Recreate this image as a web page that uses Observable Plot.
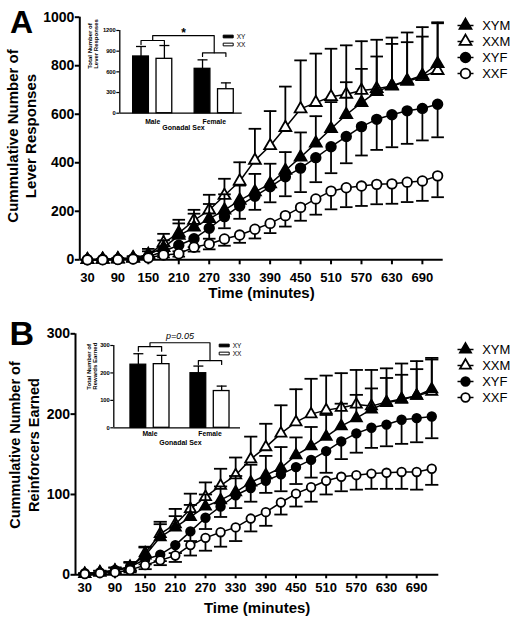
<!DOCTYPE html>
<html>
<head>
<meta charset="utf-8">
<script src="https://cdn.jsdelivr.net/npm/d3@7"></script>
<script src="https://cdn.jsdelivr.net/npm/@observablehq/plot@0.6"></script>
<style>
  body { margin: 0; background: #fff; }
  #fig { position: relative; width: 512px; height: 624px; overflow: hidden; background: #fff;
         font-family: "Liberation Sans", Arial, sans-serif; color: #000; }
  .letter { position: absolute; font-weight: bold; line-height: 1; }
  .ytitle { position: absolute; font-weight: bold; text-align: center; white-space: pre; transform: rotate(-90deg); }
</style>
</head>
<body>
<div id="fig"></div>
<script>
// ---------------- DATA ----------------
const times = [30, 60, 90, 120, 150, 180, 210, 240, 270, 300, 330, 360, 390, 420, 450, 480, 510, 540, 570, 600, 630, 660, 690, 720];
const timeTicks = [30, 90, 150, 210, 270, 330, 390, 450, 510, 570, 630, 690];
const seriesNames = ["XYM", "XXM", "XYF", "XXF"];

// Panel A: cumulative lever responses (mean, SEM)
const leverXYM = [0, 2, 4, 8, 22, 50, 100, 134, 169, 205, 245, 280, 313, 368, 423, 481, 540, 598, 648, 693, 718, 739, 760, 808];
const leverXYMErr = [0, 2, 4, 6, 13, 30, 50, 56, 61, 65, 61, 74, 83, 76, 102, 111, 110, 134, 139, 145, 172, 158, 160, 167];
const leverXXM = [0, 2, 3, 6, 18, 70, 110, 162, 205, 265, 324, 410, 470, 545, 622, 648, 672, 682, 698, 705, 716, 735, 755, 780];
const leverXXMErr = [0, 2, 4, 8, 27, 37, 55, 44, 63, 69, 78, 130, 143, 169, 200, 202, 198, 202, 203, 202, 200, 202, 204, 199];
const leverXYF = [0, 1, 2, 4, 12, 35, 60, 87, 130, 178, 222, 262, 301, 342, 378, 421, 466, 508, 549, 579, 598, 614, 624, 641];
const leverXYFErr = [0, 1, 2, 3, 6, 15, 25, 35, 43, 48, 53, 56, 64, 80, 99, 101, 109, 110, 119, 126, 134, 136, 132, 136];
const leverXXF = [0, 0, 1, 3, 8, 20, 25, 52, 65, 86, 102, 126, 150, 182, 216, 251, 283, 297, 304, 311, 313, 320, 325, 346];
const leverXXFErr = [0, 0, 1, 2, 4, 10, 12, 18, 22, 28, 32, 38, 40, 45, 55, 65, 75, 80, 82, 82, 82, 82, 82, 88];
const leverYTicks = [0, 200, 400, 600, 800, 1000];

// Panel B: cumulative reinforcers earned (mean, SEM)
const rewardXYM = [1, 3, 5, 10, 24, 47, 59, 72, 85, 93, 103, 115, 124, 133, 149, 160, 172, 185, 195, 206, 214, 218, 223, 231];
const rewardXYMErr = [1, 2, 4, 6, 10, 19, 14, 15, 15, 17, 20, 22, 24, 26, 22, 24, 27, 28, 29, 26, 31, 31, 33, 37];
const rewardXXM = [1, 3, 5, 9, 27, 51, 63, 82, 97, 111, 124, 144, 159, 176, 190, 200, 205, 208, 212, 210, 215, 219, 223, 228];
const rewardXXMErr = [1, 2, 4, 6, 8, 12, 19, 19, 18, 21, 22, 28, 29, 35, 41, 44, 43, 43, 43, 45, 42, 44, 43, 42];
const rewardXYF = [2, 3, 6, 10, 19, 25, 37, 54, 71, 85, 99, 108, 117, 125, 134, 143, 154, 166, 176, 183, 187, 193, 195, 197];
const rewardXYFErr = [1, 2, 3, 5, 6, 8, 10, 12, 14, 13, 16, 17, 15, 21, 21, 22, 27, 22, 24, 25, 27, 30, 30, 27];
const rewardXXF = [1, 2, 3, 6, 12, 18, 24, 37, 46, 53, 59, 70, 78, 90, 101, 109, 117, 122, 124, 126, 127, 128, 128, 132];
const rewardXXFErr = [1, 1, 2, 3, 5, 6, 8, 13, 16, 18, 17, 16, 17, 15, 16, 18, 17, 18, 18, 19, 20, 21, 22, 20];
const rewardYTicks = [0, 100, 200, 300];

// Insets: totals by gonadal sex and sex chromosome complement
const insetSexes = ["Male", "Female"];
const insetGenotypes = ["XY", "XX"];
const leverTotalXY = [823, 644];
const leverTotalXYErr = [145, 130];
const leverTotalXX = [789, 348];
const leverTotalXXErr = [193, 92];
const leverInsetTicks = [0, 300, 600, 900, 1200];
const leverBracket = [997, 1055, 823, 876, 1127]; // male low/high, female low/high, top
const rewardTotalXY = [230, 199];
const rewardTotalXYErr = [40, 26];
const rewardTotalXX = [232, 134];
const rewardTotalXXErr = [32, 18];
const rewardInsetTicks = [0, 100, 200, 300];
const rewardBracket = [279, 296, 231, 245, 310];

// ---------------- HELPERS ----------------
const FONT = "'Liberation Sans', Arial, Helvetica, sans-serif";
const fig = document.getElementById("fig");
const plain = d => String(d);
function place(el, left, top) {
  el.style.position = "absolute";
  el.style.left = left + "px";
  el.style.top = top + "px";
  el.style.overflow = "visible";
  el.style.maxWidth = "none";
  fig.appendChild(el);
}
function yTitle(text, cx, cy, size, lh) {
  const div = document.createElement("div");
  div.className = "ytitle";
  div.textContent = text;
  const w = 240, h = lh * 2;
  div.style.width = w + "px";
  div.style.height = h + "px";
  div.style.fontSize = size + "px";
  div.style.lineHeight = lh + "px";
  div.style.left = (cx - w / 2) + "px";
  div.style.top = (cy - h / 2) + "px";
  fig.appendChild(div);
}
const hline = { draw(ctx, size) { const w = Math.sqrt(size / Math.PI); ctx.moveTo(-w, 0); ctx.lineTo(w, 0); } };
const swatchRect = { draw(ctx, size) { const w = Math.sqrt(size / Math.PI); ctx.rect(-w, -w * 0.27, 2 * w, w * 0.54); } };

const errDir = { XYM: 1, XXM: 1, XYF: -1, XXF: -1 };
const markerKind = {
  XYM: { symbol: "triangle", fill: "black" },
  XXM: { symbol: "triangle", fill: "white" },
  XYF: { symbol: "circle", fill: "black" },
  XXF: { symbol: "circle", fill: "white" }
};
const drawOrder = ["XXM", "XYM", "XYF", "XXF"];

function mainPanel(cfg) {
  const rowsBy = {};
  seriesNames.forEach((s, k) => {
    rowsBy[s] = times.map((t, i) => ({ t, v: cfg.values[k][i], e: cfg.errors[k][i] }));
  });
  const marks = [
    Plot.ruleY([cfg.yDomain[0]], { strokeWidth: 2 }),
    Plot.ruleX([cfg.xDomain[0]], { strokeWidth: 2 }),
    Plot.axisY({ ticks: cfg.yTicks, tickFormat: plain, tickSize: cfg.yTickSize, tickPadding: cfg.yTickPad, fontSize: cfg.yTickFont,
                 fontWeight: "bold", label: null, strokeWidth: 2 }),
    Plot.axisX({ ticks: timeTicks, tickFormat: plain, tickSize: cfg.xTickSize, tickPadding: cfg.xTickPad, fontSize: cfg.xTickFont,
                 fontWeight: "bold", label: null, strokeWidth: 2 })
  ];
  for (const s of drawOrder) {
    const rows = rowsBy[s];
    const d = errDir[s];
    const mk = markerKind[s];
    marks.push(
      Plot.ruleX(rows, { x: "t", y1: "v", y2: r => r.v + d * r.e, strokeWidth: 1.8 }),
      Plot.dot(rows, { x: "t", y: r => r.v + d * r.e, symbol: hline, r: cfg.cap, stroke: "black", fill: "none", strokeWidth: 1.8 }),
      Plot.line(rows, { x: "t", y: "v", stroke: "black", strokeWidth: 1.5 }),
      Plot.dot(rows, { x: "t", y: "v", symbol: mk.symbol, r: mk.symbol === "triangle" ? cfg.tri : cfg.circ,
                       fill: mk.fill, stroke: "black", strokeWidth: 1.8 })
    );
  }
  marks.push(
    Plot.text(["Time (minutes)"], { text: d => d, frameAnchor: "bottom", dy: cfg.xTitleDy, fontSize: 15, fontWeight: "bold" })
  );
  const p = Plot.plot({
    width: cfg.width, height: cfg.height,
    marginLeft: cfg.ml, marginRight: cfg.mr, marginTop: cfg.mt, marginBottom: cfg.mb,
    x: { domain: cfg.xDomain },
    y: { domain: cfg.yDomain },
    style: { fontFamily: FONT, background: "transparent", overflow: "visible", color: "black" },
    marks
  });
  place(p, cfg.left, cfg.top);
}

function mainLegend(cfg) {
  const marks = [];
  for (const s of seriesNames) {
    const mk = markerKind[s];
    marks.push(
      Plot.dot([s], { y: d => d, frameAnchor: "left", symbol: hline, r: 8, stroke: "black", fill: "none", strokeWidth: 1.5 }),
      Plot.dot([s], { y: d => d, frameAnchor: "left", symbol: mk.symbol, r: mk.symbol === "triangle" ? cfg.tri : cfg.circ,
                      fill: mk.fill, stroke: "black", strokeWidth: 1.8 })
    );
  }
  marks.push(Plot.text(seriesNames, { y: d => d, text: d => d, frameAnchor: "left", dx: 16.7, textAnchor: "start", fontSize: 13 }));
  const p = Plot.plot({
    width: 72, height: cfg.height, marginLeft: 25, marginRight: 0, marginTop: 0, marginBottom: 0,
    y: { type: "point", domain: seriesNames, range: cfg.rows, padding: 0, axis: null },
    style: { fontFamily: FONT, background: "transparent", overflow: "visible", color: "black" },
    marks
  });
  place(p, cfg.left, cfg.top);
}

function insetPanel(cfg) {
  const rows = [];
  insetSexes.forEach((s, si) => {
    insetGenotypes.forEach(g => {
      rows.push({
        sex: s, g,
        pos: si + (g === "XY" ? -cfg.off : cfg.off),
        v: g === "XY" ? cfg.xy[si] : cfg.xx[si],
        e: g === "XY" ? cfg.xyErr[si] : cfg.xxErr[si]
      });
    });
  });
  const [mLow, mHigh, fLow, fHigh, topY] = cfg.br;
  const o = cfg.off;
  const maleBr = [{ x: -o, y: mLow }, { x: -o, y: mHigh }, { x: o, y: mHigh }, { x: o, y: mLow }];
  const femBr = [{ x: 1 - o, y: fLow }, { x: 1 - o, y: fHigh }, { x: 1 + o, y: fHigh }, { x: 1 + o, y: fLow }];
  const topBr = [{ x: 0, y: mHigh }, { x: 0, y: topY }, { x: 1, y: topY }, { x: 1, y: fHigh }];
  const p = Plot.plot({
    width: cfg.width, height: cfg.height,
    marginLeft: cfg.ml, marginRight: cfg.mr, marginTop: cfg.mt, marginBottom: cfg.mb,
    x: { domain: cfg.xDomain },
    y: { domain: cfg.yDomain },
    style: { fontFamily: FONT, background: "transparent", overflow: "visible", color: "black" },
    marks: [
      Plot.ruleY([cfg.yDomain[0]], { strokeWidth: 1.3 }),
      Plot.ruleX([cfg.xDomain[0]], { strokeWidth: 1.3 }),
      Plot.axisY({ ticks: cfg.yTicks, tickFormat: plain, tickSize: 3, tickPadding: 1, fontSize: 5.8, fontWeight: "bold", label: null, strokeWidth: 1.2 }),
      Plot.axisX({ ticks: [0, 1], tickFormat: i => insetSexes[i], tickSize: 0, tickPadding: cfg.xLabPad, fontSize: 6.8,
                   fontWeight: "bold", label: null }),
      Plot.ruleX(rows, { x: "pos", y1: "v", y2: r => r.v + r.e, strokeWidth: 1.3 }),
      Plot.dot(rows, { x: "pos", y: r => r.v + r.e, symbol: hline, r: 5, stroke: "black", fill: "none", strokeWidth: 1.3 }),
      Plot.rectY(rows, { x1: r => r.pos - cfg.hw, x2: r => r.pos + cfg.hw, y: "v",
                         fill: r => r.g === "XY" ? "black" : "white", stroke: "black", strokeWidth: 1.3 }),
      Plot.line(maleBr, { x: "x", y: "y", strokeWidth: 1.2 }),
      Plot.line(femBr, { x: "x", y: "y", strokeWidth: 1.2 }),
      Plot.line(topBr, { x: "x", y: "y", strokeWidth: 1.2 }),
      Plot.text([cfg.sig], { x: 0.5, y: topY, text: d => d, dy: cfg.sigDy, fontSize: cfg.sigSize,
                             fontWeight: cfg.sigWeight, fontStyle: cfg.sigStyle }),
      Plot.text(["Gonadal Sex"], { text: d => d, frameAnchor: "bottom", dx: cfg.gsDx, dy: cfg.gsDy, fontSize: 7, fontWeight: "bold" }),
      Plot.text([cfg.yLabel], { text: d => d, frameAnchor: "left", rotate: -90, dx: cfg.ylDx, dy: cfg.ylDy,
                                fontSize: 6, lineHeight: 1.05, fontWeight: "bold" })
    ]
  });
  place(p, cfg.left, cfg.top);
}

function insetLegend(cfg) {
  const p = Plot.plot({
    width: 45, height: 30, marginLeft: 12.7, marginRight: 0, marginTop: 0, marginBottom: 0,
    y: { type: "point", domain: insetGenotypes, range: cfg.rows, padding: 0, axis: null },
    style: { fontFamily: FONT, background: "transparent", overflow: "visible", color: "black" },
    marks: [
      Plot.dot(insetGenotypes, { y: d => d, frameAnchor: "left", symbol: swatchRect, r: 5,
                                 fill: d => d === "XY" ? "black" : "white", stroke: "black", strokeWidth: 1 }),
      Plot.text(insetGenotypes, { y: d => d, text: d => d, frameAnchor: "left", dx: 8.5, textAnchor: "start", fontSize: 6.5 })
    ]
  });
  place(p, cfg.left, cfg.top);
}

// ---------------- PANEL A ----------------
mainPanel({
  left: 0, top: 0, width: 512, height: 310,
  ml: 79.3, mr: 69.3, mt: 16.7, mb: 50.7,
  xDomain: [15, 731], yDomain: [0, 1000], yTicks: leverYTicks,
  values: [leverXYM, leverXXM, leverXYF, leverXXF],
  errors: [leverXYMErr, leverXXMErr, leverXYFErr, leverXXFErr],
  yTickSize: 4.5, yTickPad: 1, yTickFont: 14,
  xTickSize: 5, xTickPad: 8, xTickFont: 13,
  tri: 4.4, circ: 4.8, cap: 6.3,
  xTitleDy: 38
});
mainLegend({ left: 440, top: 0, height: 90, rows: [24, 73.3], tri: 4.4, circ: 4.8 });
insetPanel({
  left: 60, top: 10, width: 200, height: 130,
  ml: 59.3, mr: 18.3, mt: 20, mb: 27.3,
  xDomain: [-0.535, 1.455], off: 0.19, hw: 0.128,
  yDomain: [0, 1200], yTicks: leverInsetTicks,
  xy: leverTotalXY, xyErr: leverTotalXYErr, xx: leverTotalXX, xxErr: leverTotalXXErr,
  br: leverBracket, sig: "*", sigSize: 12, sigDy: -2, sigWeight: "bold", sigStyle: "normal",
  xLabPad: 6, gsDx: 2.5, gsDy: 16.6,
  yLabel: "Total Number of\nLever Responses", ylDx: -26.6, ylDy: -3
});
insetLegend({ left: 215, top: 25, rows: [10.8, 19.2] });
yTitle("Cummulative Number of\nLever Responses", 21.5, 136, 15, 18);

// ---------------- PANEL B ----------------
mainPanel({
  left: 0, top: 310, width: 512, height: 314,
  ml: 75, mr: 73.7, mt: 23.3, mb: 49.7,
  xDomain: [11.5, 734], yDomain: [0, 300], yTicks: rewardYTicks,
  values: [rewardXYM, rewardXXM, rewardXYF, rewardXXF],
  errors: [rewardXYMErr, rewardXXMErr, rewardXYFErr, rewardXXFErr],
  yTickSize: 4.5, yTickPad: 1, yTickFont: 14,
  xTickSize: 4, xTickPad: 4, xTickFont: 13,
  tri: 4.1, circ: 4.3, cap: 6.6,
  xTitleDy: 38
});
mainLegend({ left: 440, top: 310, height: 100, rows: [38.3, 88.3], tri: 4.1, circ: 4.3 });
insetPanel({
  left: 60, top: 325, width: 200, height: 130,
  ml: 53.3, mr: 20, mt: 20, mb: 27.7,
  xDomain: [-0.603, 1.508], off: 0.194, hw: 0.131,
  yDomain: [0, 300], yTicks: rewardInsetTicks,
  xy: rewardTotalXY, xyErr: rewardTotalXYErr, xx: rewardTotalXX, xxErr: rewardTotalXXErr,
  br: rewardBracket, sig: "p=0.05", sigSize: 9, sigDy: -7, sigWeight: "normal", sigStyle: "italic",
  xLabPad: 3, gsDx: 3.3, gsDy: 16.7,
  yLabel: "Total Number of\nRewards Earned", ylDx: -21.6, ylDy: 3
});
insetLegend({ left: 210.6, top: 335, rows: [10, 18.3] });
yTitle("Cummulative Number of\nReinforcers Earned", 24.5, 445, 14.5, 19);

// ---------------- PANEL LETTERS ----------------
const la = document.createElement("div");
la.className = "letter"; la.textContent = "A";
la.style.fontSize = "32px"; la.style.left = "10px"; la.style.top = "6px";
fig.appendChild(la);
const lb = document.createElement("div");
lb.className = "letter"; lb.textContent = "B";
lb.style.fontSize = "34px"; lb.style.left = "9.5px"; lb.style.top = "316px";
fig.appendChild(lb);
</script>
</body>
</html>
